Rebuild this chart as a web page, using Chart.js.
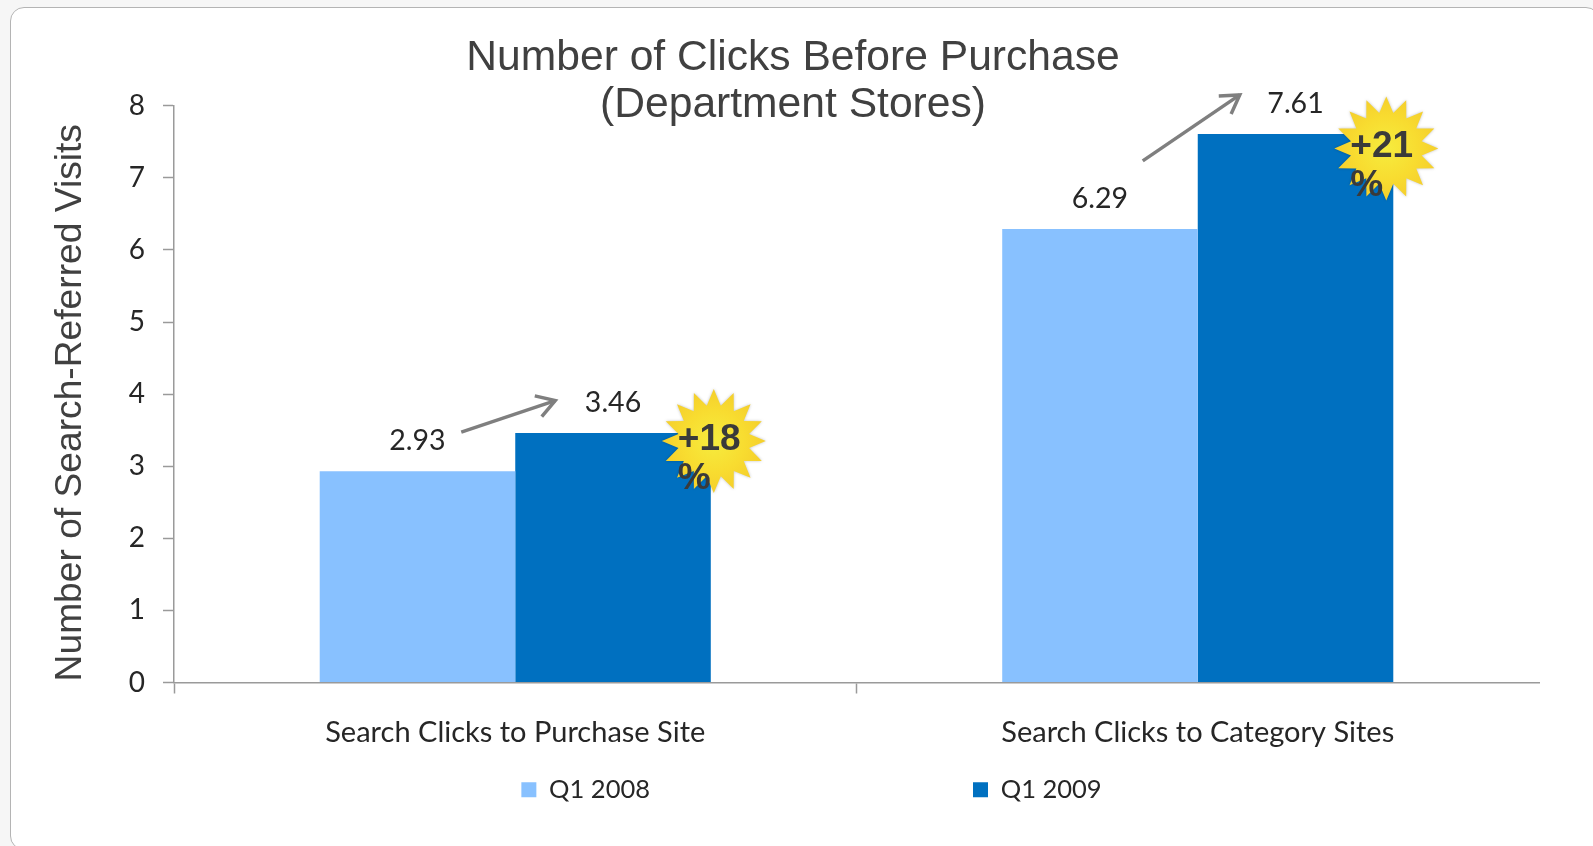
<!DOCTYPE html>
<html>
<head>
<meta charset="utf-8">
<style>
html,body{margin:0;padding:0;width:1593px;height:846px;overflow:hidden;background:#f6f6f6;}
#card{position:absolute;left:10px;top:7px;width:1590px;height:843px;background:#fff;border:1.5px solid #b4b4b4;border-radius:14px;box-sizing:border-box;}
#wrap{position:absolute;left:0;top:0;width:1593px;height:846px;}
</style>
<script src="https://cdn.jsdelivr.net/npm/chart.js@4"></script>
</head>
<body>
<div id="card"></div>
<div id="wrap"><canvas id="c" width="1593" height="846"></canvas></div>
<script>
const categories = ["Search Clicks to Purchase Site", "Search Clicks to Category Sites"];
const seriesNames = ["Q1 2008", "Q1 2009"];
const q12008 = [2.93, 6.29];
const q12009 = [3.46, 7.61];
const yTicks = [0,1,2,3,4,5,6,7,8];
const changeLabels = [["+18","%"],["+21","%"]];
const titleLines = ["Number of Clicks Before Purchase","(Department Stores)"];
const yTitle = "Number of Search-Referred Visits";

const sans = "'Liberation Sans', Arial, sans-serif";
const body = "Lato, sans-serif";
// Offsets of callouts measured from each dark bar's top corners
const arrowOffsets = [{sx:-54,sy:-1,ex:40,ey:-32.5},{sx:-55,sy:27,ex:42,ey:-39}];
const starOffsets = [{x:3,y:8},{x:-7,y:14.5}];
const legendPad = 323, legendHeight = 50, legendShift = 18.5, legendCenterY = 791;
const yTitleShift = 8.6;

function drawStar(ctx,cx,cy,ro,ri,n){
  const g=ctx.createRadialGradient(cx,cy,0,cx,cy,ro);
  g.addColorStop(0,'#F6EC3E');g.addColorStop(0.6,'#F8DC30');g.addColorStop(1,'#F5CF2C');
  ctx.beginPath();
  for(let i=0;i<n*2;i++){
    const r=i%2?ri:ro,a=-Math.PI/2+i*Math.PI/n;
    const x=cx+r*Math.cos(a),y=cy+r*Math.sin(a);
    i?ctx.lineTo(x,y):ctx.moveTo(x,y);
  }
  ctx.closePath();
  ctx.fillStyle=g;ctx.shadowColor='rgba(0,0,0,0.25)';ctx.shadowBlur=3;ctx.fill();ctx.shadowBlur=0;ctx.shadowColor='transparent';
}
function drawArrow(ctx,a,b,c,d){
  const ang=Math.atan2(d-b,c-a),h=21,sp=0.55;
  ctx.strokeStyle='#7F7F7F';ctx.lineWidth=3.5;ctx.lineCap='butt';ctx.lineJoin='miter';
  ctx.beginPath();ctx.moveTo(a,b);ctx.lineTo(c,d);ctx.stroke();
  ctx.beginPath();
  ctx.moveTo(c-h*Math.cos(ang-sp),d-h*Math.sin(ang-sp));
  ctx.lineTo(c,d);
  ctx.lineTo(c-h*Math.cos(ang+sp),d-h*Math.sin(ang+sp));
  ctx.stroke();
}
const callouts={
  id:'callouts',
  beforeLayout(chart){
    const l=chart.legend;
    if(!l._fitWrapped){
      const orig=l.fit.bind(l);
      l.fit=function(){orig();this.height=legendHeight;};
      l._fitWrapped=true;
    }
  },
  afterLayout(chart){
    const l=chart.legend;
    l.left+=legendShift; l.right+=legendShift;
    l.top=legendCenterY-legendPad-14;
    const y=chart.scales.y;
    if(!y._titleWrapped){
      const origTitle=y.drawTitle.bind(y);
      y.drawTitle=function(){
        chart.ctx.save();chart.ctx.translate(0,yTitleShift);origTitle();chart.ctx.restore();
      };
      y._titleWrapped=true;
    }
  },
  afterDatasetsDraw(chart){
    const ctx=chart.ctx;
    const m0=chart.getDatasetMeta(0).data,m1=chart.getDatasetMeta(1).data;
    ctx.save();
    ctx.textAlign='center';ctx.textBaseline='middle';ctx.fillStyle='#262626';ctx.font="28.5px "+body;
    [[q12008,m0],[q12009,m1]].forEach(([vals,meta])=>{
      meta.forEach((b,i)=>ctx.fillText(vals[i].toFixed(2),b.x,b.y-30));
    });
    m1.forEach((b,i)=>{
      const half=b.width/2,left=b.x-half,right=b.x+half,top=b.y;
      const ar=arrowOffsets[i];
      drawArrow(ctx,left+ar.sx,top+ar.sy,left+ar.ex,top+ar.ey);
      const s=starOffsets[i],cx=right+s.x,cy=top+s.y;
      drawStar(ctx,cx,cy,52,36,16);
      ctx.fillStyle='#3A3A3A';ctx.font="bold 37px "+sans;ctx.textAlign='left';ctx.textBaseline='middle';
      ctx.fillText(changeLabels[i][0],cx-36,cy-1.5);
      ctx.fillText(changeLabels[i][1],cx-36,cy+37.5);
    });
    ctx.restore();
  }
};
new Chart(document.getElementById('c'),{
  type:'bar',
  data:{labels:categories,datasets:[
    {label:seriesNames[0],data:q12008,backgroundColor:'#88C1FF'},
    {label:seriesNames[1],data:q12009,backgroundColor:'#0070C0'}
  ]},
  plugins:[callouts],
  options:{
    responsive:false,animation:false,
    layout:{padding:{left:47,right:54,top:0,bottom:0}},
    datasets:{bar:{categoryPercentage:0.573,barPercentage:1}},
    plugins:{
      tooltip:{enabled:false},
      title:{display:true,text:titleLines,font:{family:sans,size:42.6,weight:'normal',lineHeight:1.11},color:'#404040',padding:{top:34.4,bottom:-23.2}},
      legend:{position:'bottom',labels:{font:{family:body,size:25.5},color:'#262626',boxWidth:15,boxHeight:15,padding:legendPad}}
    },
    scales:{
      x:{
        grid:{drawOnChartArea:false,drawTicks:true,tickLength:11,tickColor:c=>c.index===undefined?'transparent':'#9A9A9A',tickWidth:1.5},
        border:{color:'#9A9A9A',width:1.5},
        ticks:{font:{family:body,size:29},color:'#262626',padding:22,maxRotation:0},
        afterFit(s){s.height=113.5;}
      },
      y:{
        min:0,max:8,
        grid:{drawOnChartArea:false,tickLength:11,tickColor:'#9A9A9A',tickWidth:1.5},
        border:{color:'#9A9A9A',width:1.5},
        ticks:{stepSize:1,autoSkip:false,font:{family:body,size:28},color:'#262626',padding:18,callback:v=>yTicks.includes(v)?String(v):''},
        title:{display:true,text:yTitle,font:{family:sans,size:37.2,weight:'normal',lineHeight:1.2},color:'#404040',padding:{top:1.5,bottom:10}},
        afterFit(s){s.width=127;}
      }
    }
  }
});
</script>
</body>
</html>
